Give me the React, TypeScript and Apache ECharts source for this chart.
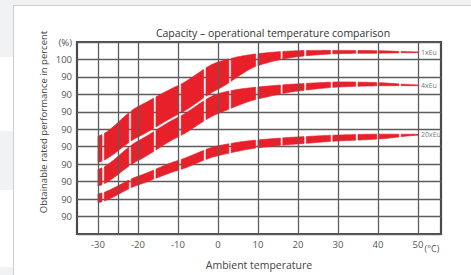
import React, { useEffect, useRef } from "react";
import * as echarts from "echarts";

const temperatures = [-30, -20, -10, 0, 10, 20, 30, 40, 50];
const band1Upper = [56, 73, 85, 98.5, 103.3, 105, 105.2, 105, 104.3];
const band1Lower = [41, 55.6, 68.5, 83, 96.5, 101.6, 103.3, 103.6, 103.9];
const band2Upper = [37, 53.3, 66.8, 80.3, 84.2, 86, 87.1, 86.7, 85.4];
const band2Lower = [27.5, 42.1, 55.6, 69, 77.4, 81.9, 84.2, 84.9, 85];
const band3Upper = [23, 33.1, 42.1, 50.5, 53.9, 55.6, 56.7, 57.2, 57.1];
const band3Lower = [18, 28.1, 36.5, 44.9, 49.4, 51.6, 53.3, 54.4, 56.6];
const bandNames = ["1xEu", "4xEu", "20xEu"];
const breakTemps = [-28.7, -22, -15.8, -9.5, -3.3, 3, 9.7, 15.9, 21.8, 28.4, 34.7, 40, 45.5];
const xTickValues = [-30, -20, -10, 0, 10, 20, 30, 40, 50];
const xGridValues = [-30, -25, -20, -10, 0, 10, 20, 30, 40, 50];
const yTickLabels = ["", "90", "90", "90", "90", "90", "90", "90", "90", "90", "100", "(%)"];

const FONT = "Open Sans";
const RED = "#e8202a";
const GRID = "#5c5c5c";

const uppers = [band1Upper, band2Upper, band3Upper];
const lowers = [band1Lower, band2Lower, band3Lower];

// Catmull-Rom evaluation of a curve through the read points (rendering only)
function curve(arr: number[], t: number) {
  const n = temperatures.length;
  const step = temperatures[1] - temperatures[0];
  let i = Math.floor((t - temperatures[0]) / step);
  if (i < 0) i = 0;
  if (i > n - 2) i = n - 2;
  const u = (t - temperatures[i]) / step;
  const p0 = arr[Math.max(0, i - 1)], p1 = arr[i], p2 = arr[i + 1], p3 = arr[Math.min(n - 1, i + 2)];
  const m1 = (p2 - p0) / 2 * 0.8, m2 = (p3 - p1) / 2 * 0.8;
  const u2 = u * u, u3 = u2 * u;
  return (2 * u3 - 3 * u2 + 1) * p1 + (u3 - 2 * u2 + u) * m1 + (-2 * u3 + 3 * u2) * p2 + (u3 - u2) * m2;
}

export default function App() {
  const ref = useRef<HTMLDivElement>(null);
  useEffect(() => {
    if (!ref.current) return;
    const chart = echarts.init(ref.current, undefined, { renderer: "svg" });
    const series: any[] = [];
    series.push({
      type: "line",
      name: "grid",
      data: temperatures.map((t, j) => [t, band1Upper[j]]),
      symbol: "none",
      silent: true,
      z: 1,
      lineStyle: { opacity: 0, width: 0 },
      markLine: {
        silent: true,
        symbol: ["none", "none"],
        label: { show: false },
        lineStyle: { color: GRID, width: 1.3, type: "solid" },
        data: xGridValues.map((v) => ({ xAxis: v })),
      },
    });
    uppers.forEach((up, b) => {
      const lo = lowers[b];
      series.push({
        type: "custom",
        name: bandNames[b],
        z: 2,
        silent: true,
        data: [[temperatures[0], up[0], b]],
        encode: { x: 0, y: 1 },
        renderItem: (params: any, api: any) => {
          const t0 = temperatures[0];
          const t1 = temperatures[temperatures.length - 1];
          const bounds = [t0, ...breakTemps, t1];
          const gap = 0.3;
          const children: any[] = [];
          for (let k = 0; k < bounds.length - 1; k++) {
            const s = k === 0 ? bounds[k] : bounds[k] + gap;
            const e = k === bounds.length - 2 ? bounds[k + 1] : bounds[k + 1] - gap;
            if (e <= s) continue;
            const top: number[][] = [];
            const bot: number[][] = [];
            const steps = Math.max(2, Math.ceil((e - s) / 0.25));
            for (let q = 0; q <= steps; q++) {
              const t = s + ((e - s) * q) / steps;
              top.push(api.coord([t, curve(up, t)]));
              bot.push(api.coord([t, curve(lo, t)]));
            }
            children.push({
              type: "polygon",
              shape: { points: top.concat(bot.reverse()) },
              style: { fill: RED, stroke: RED, lineWidth: 0.7 },
            });
          }
          const endPt = api.coord([t1, (up[up.length - 1] + lo[lo.length - 1]) / 2]);
          children.push({
            type: "text",
            x: endPt[0] + 3,
            y: endPt[1],
            style: {
              text: bandNames[b],
              fontSize: 7,
              fontFamily: FONT,
              fill: "#777",
              align: "left",
              verticalAlign: "middle",
            },
          });
          return { type: "group", children };
        },
      });
    });

    chart.setOption({
      animation: false,
      textStyle: { fontFamily: FONT },
      title: {
        text: "Capacity – operational temperature comparison",
        left: 268,
        textAlign: "center",
        top: 22,
        textStyle: { fontSize: 10.5, fontWeight: "normal", color: "#333", fontFamily: FONT },
      },
      grid: {
        left: 77,
        top: 42,
        right: 30,
        bottom: 37,
        show: true,
        borderColor: "#4a4a4a",
        borderWidth: 2.2,
        containLabel: false,
      },
      xAxis: {
        type: "value",
        min: -35.25,
        max: 55.75,
        name: "Ambient temperature",
        nameLocation: "middle",
        nameGap: 25,
        nameTextStyle: { fontSize: 10.5, color: "#444", fontFamily: FONT },
        axisLine: { show: false },
        axisTick: { show: false },
        splitLine: { show: false },
        axisLabel: {
          customValues: xTickValues,
          fontSize: 9.5,
          color: "#555",
          margin: 5,
          fontFamily: FONT,
          formatter: (v: number) => String(v),
        },
      },
      yAxis: {
        type: "value",
        min: 0,
        max: 110,
        interval: 10,
        axisLine: { show: false },
        axisTick: { show: false },
        splitLine: { show: true, lineStyle: { color: GRID, width: 1.3 } },
        axisLabel: {
          fontSize: 9.5,
          color: "#555",
          margin: 5,
          fontFamily: FONT,
          showMinLabel: true,
          showMaxLabel: true,
          formatter: (v: number) => yTickLabels[Math.round(v / 10)] ?? "",
        },
      },
      graphic: [
        {
          type: "text",
          x: 43,
          y: 122,
          rotation: Math.PI / 2,
          style: {
            text: "Obtainable rated performance in percent",
            fontSize: 9.5,
            fontFamily: FONT,
            fill: "#444",
            align: "center",
            verticalAlign: "middle",
          },
        },
        {
          type: "text",
          x: 432,
          y: 248,
          style: {
            text: "(°C)",
            fontSize: 9,
            fontFamily: FONT,
            fill: "#555",
            align: "center",
            verticalAlign: "middle",
          },
        },
      ],
      series,
    });
    return () => chart.dispose();
  }, []);

  return (
    <div style={{ position: "absolute", left: 0, top: 0, width: 471, height: 275, background: "#fff", overflow: "hidden" }}>
      <div style={{ position: "absolute", left: 0, top: 0, width: 471, height: 5, background: "#f1f2f4" }} />
      <div style={{ position: "absolute", left: 0, top: 0, width: 13, height: 57, background: "#f1f2f4" }} />
      <div style={{ position: "absolute", left: 0, top: 131, width: 13, height: 59, background: "#f1f2f4" }} />
      <div style={{ position: "absolute", left: 0, top: 267, width: 13, height: 8, background: "#f1f2f4" }} />
      <div style={{ position: "absolute", left: 13, top: 5, width: 470, height: 280, background: "#fff", borderLeft: "1px solid #c9ccd0", borderTop: "1px solid #c9ccd0" }} />
      <div ref={ref} style={{ position: "absolute", left: 0, top: 0, width: 471, height: 275 }} />
    </div>
  );
}
